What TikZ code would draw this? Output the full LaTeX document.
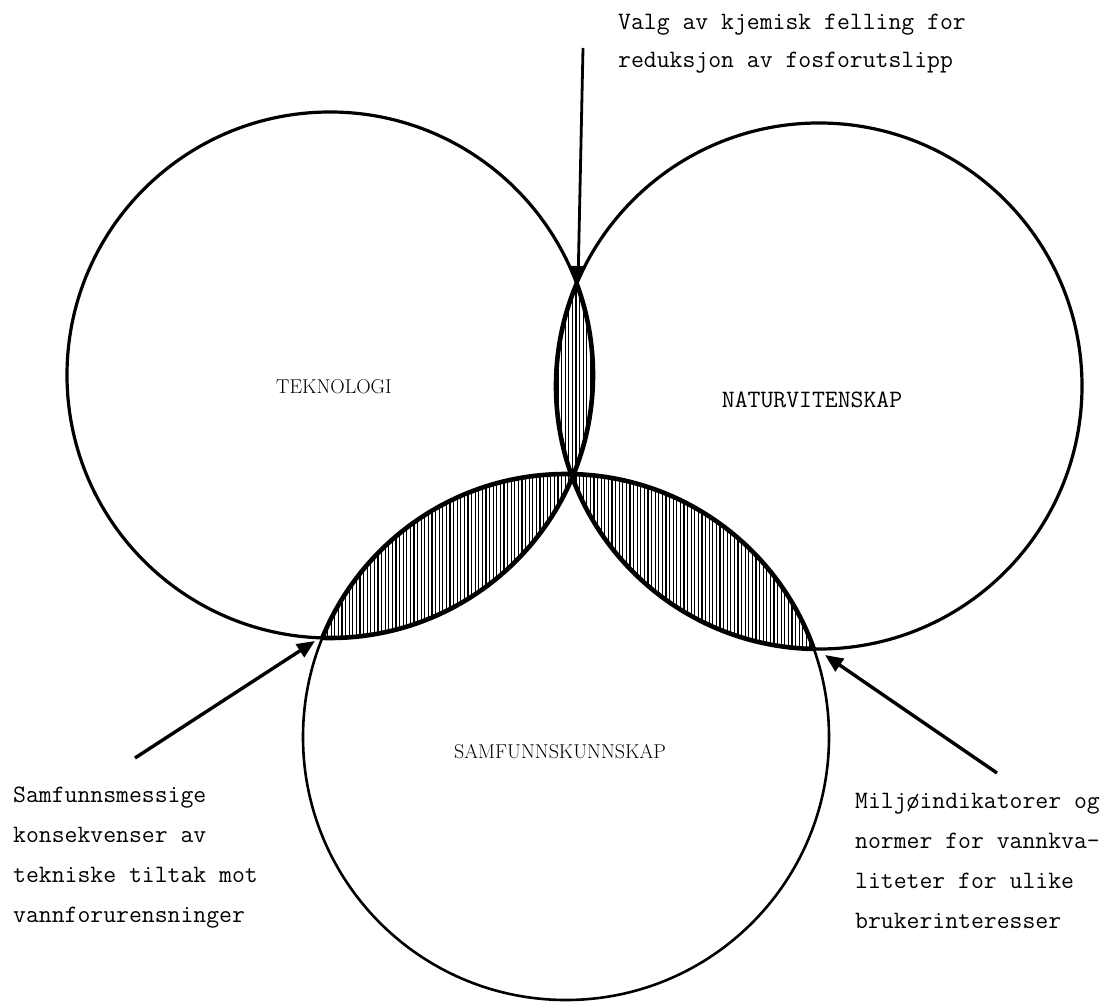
\documentclass[tikz,border=0pt]{standalone}
\usepackage{tikz}
\usetikzlibrary{arrows.meta,patterns.meta,positioning}

\begin{document}
\begin{tikzpicture}[
        x=1pt, y=-1pt,
        >={Triangle[length=18pt,width=15pt]},
        ring/.style={line width=3.2pt},
        lensekant/.style={line width=4.6pt},
        skravur/.style={pattern={Lines[angle=90,distance=3.6pt,line width=1.2pt]}},
        fag/.style={font=\fontsize{20}{24}\selectfont, inner sep=0pt, anchor=base},
        fagtt/.style={font=\fontsize{25}{30}\selectfont\ttfamily, inner sep=0pt, anchor=base},
        merknad/.style={font=\fontsize{25}{40}\selectfont\ttfamily, align=left, anchor=north west, inner sep=0pt},
        pil/.style={->, line width=3.4pt}
    ]
    \useasboundingbox (0,0) rectangle (1117,1003);

    % sentrene
    \coordinate (T) at (330,375);
    \coordinate (N) at (819,386);
    \coordinate (S) at (566,737);

    % skravur
    \begin{scope}
        \clip (T) circle (263pt);
        \fill[skravur] (N) circle (263pt);
        \fill[skravur] (S) circle (263pt);
    \end{scope}
    \begin{scope}
        \clip (N) circle (263pt);
        \fill[skravur] (S) circle (263pt);
    \end{scope}

    % sirkler
    \draw[ring] (T) circle (263pt);
    \draw[ring] (N) circle (263pt);
    \draw[ring, line width=2.6pt] (S) circle (263pt);

    % kanter
    \begin{scope}
        \clip (T) circle (263pt);
        \draw[lensekant] (N) circle (263pt);
        \draw[lensekant] (S) circle (263pt);
    \end{scope}
    \begin{scope}
        \clip (N) circle (263pt);
        \draw[lensekant] (T) circle (263pt);
        \draw[lensekant] (S) circle (263pt);
    \end{scope}
    \begin{scope}
        \clip (S) circle (263pt);
        \draw[lensekant] (T) circle (263pt);
        \draw[lensekant] (N) circle (263pt);
    \end{scope}

    \node[fag] (tek) at (334,393) {TEKNOLOGI};
    \node[fagtt] (nat) at (812,407) {NATURVITENSKAP};
    \node[fag] (sam) at (560,758) {SAMFUNNSKUNNSKAP};

    % merknader
    \node[merknad, font=\fontsize{25}{38}\selectfont\ttfamily] (valg) at (618,3)
        {\strut Valg av kjemisk felling for\\reduksjon av fosforutslipp};
    \node[merknad] (konsekv) at (13,774)
        {\strut Samfunnsmessige\\konsekvenser av\\tekniske tiltak mot\\vannforurensninger};
    \node[merknad] (miljo) at (855,780)
        {\strut Miljøindikatorer og\\normer for vannkva-\\liteter for ulike\\brukerinteresser};

    % piler
    \coordinate (haleTN) at (583,48);
    \coordinate (spissTN) at (578,284);
    \coordinate (haleTS) at (135,758);
    \coordinate (spissTS) at (315,641);
    \coordinate (haleNS) at (997,773);
    \coordinate (spissNS) at (825,655);

    \draw[pil, line width=2.8pt] (haleTN) -- (spissTN);
    \draw[pil] (haleTS) -- (spissTS);
    \draw[pil] (haleNS) -- (spissNS);

\end{tikzpicture}
\end{document}
